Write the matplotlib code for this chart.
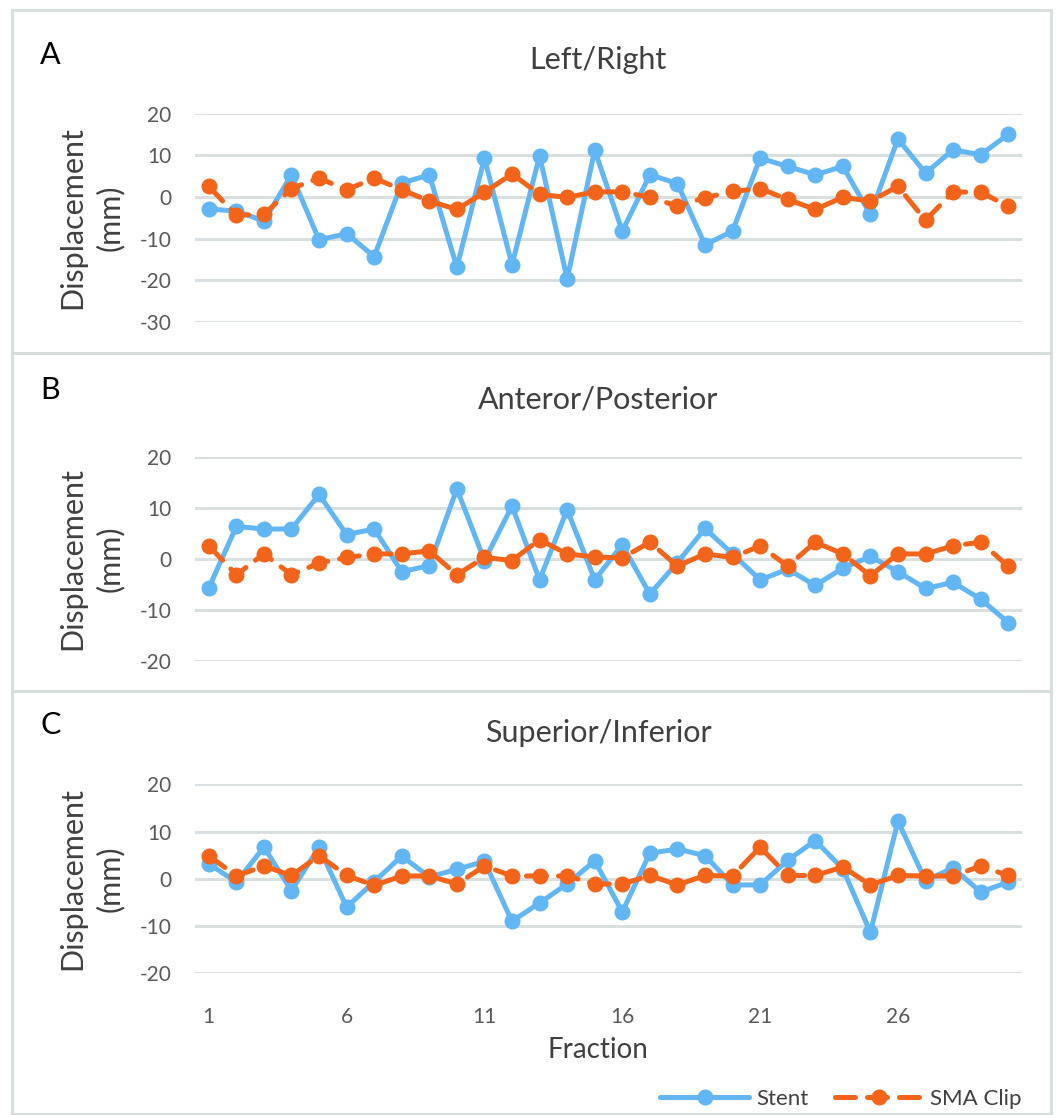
import numpy as np
import matplotlib.pyplot as plt
from matplotlib.lines import Line2D
from matplotlib.patches import Rectangle

plt.rcParams['font.family'] = ['Lato', 'DejaVu Sans']

fractions = np.arange(1, 31)

# Left/Right
lr_stent = [-2.9, -3.4, -5.8, 5.3, -10.3, -8.8, -14.3, 3.3, 5.3, -16.9,
            9.3, -16.3, 9.9, -19.7, 11.2, -8.2, 5.3, 3.2, -11.5, -8.2,
            9.3, 7.3, 5.3, 7.3, -4.2, 13.9, 5.7, 11.3, 10.1, 15.0]
lr_clip = [2.5, -4.4, -4.2, 2.0, 4.5, 1.7, 4.5, 1.7, -1.0, -3.0,
           1.1, 5.5, 0.6, -0.1, 1.2, 1.2, -0.1, -2.2, -0.2, 1.3,
           2.0, -0.6, -3.0, -0.1, -1.0, 2.5, -5.6, 1.2, 1.1, -2.2]

# Anterior/Posterior
ap_stent = [-5.7, 6.4, 5.9, 5.9, 12.7, 4.8, 5.9, -2.5, -1.3, 13.8,
            -0.3, 10.4, -4.1, 9.7, -4.1, 2.8, -6.9, -0.7, 6.0, 1.0,
            -4.1, -2.0, -5.2, -1.8, 0.5, -2.5, -5.8, -4.6, -7.9, -12.5]
ap_clip = [2.6, -3.1, 1.0, -3.1, -0.8, 0.3, 1.0, 1.0, 1.6, -3.1,
           0.3, -0.3, 3.8, 1.0, 0.4, 0.2, 3.3, -1.4, 1.0, 0.3,
           2.6, -1.4, 3.3, 1.0, -3.3, 1.0, 1.0, 2.6, 3.3, -1.4]

# Superior/Inferior
si_stent = [3.2, -0.7, 6.7, -2.5, 6.7, -6.0, -0.6, 4.8, 0.4, 2.0,
            3.7, -9.0, -5.1, -1.1, 3.8, -7.0, 5.4, 6.3, 4.9, -1.3,
            -1.3, 3.9, 8.1, 2.1, -11.3, 12.2, -0.4, 2.3, -2.8, -0.7]
si_clip = [4.9, 0.6, 2.7, 0.7, 4.9, 0.7, -1.4, 0.6, 0.6, -1.1,
           2.7, 0.6, 0.6, 0.6, -1.1, -1.1, 0.7, -1.3, 0.7, 0.6,
           6.7, 0.7, 0.7, 2.5, -1.3, 0.7, 0.6, 0.6, 2.7, 0.7]

panels = [
    ('A', 'Left/Right', lr_stent, lr_clip, [20, 10, 0, -10, -20, -30]),
    ('B', 'Anteror/Posterior', ap_stent, ap_clip, [20, 10, 0, -10, -20]),
    ('C', 'Superior/Inferior', si_stent, si_clip, [20, 10, 0, -10, -20]),
]

blue = '#62B6F4'
orange = '#F26419'
grid_c = '#D9E0DF'
text_c = '#404040'
tick_c = '#595959'

W, H = 1057, 1115
fig = plt.figure(figsize=(W / 100, H / 100), dpi=100)

def fx(px):
    return px / W

def fy(py):
    return 1 - py / H

# panel frames
box_c = '#D6DFDE'
fig.patches.append(Rectangle((fx(12), fy(1114)), fx(1051) - fx(12), fy(10) - fy(1114),
                             transform=fig.transFigure, fill=False, ec=box_c, lw=2.2))
for yy in [353, 691]:
    fig.add_artist(Line2D([fx(12), fx(1051)], [fy(yy), fy(yy)], transform=fig.transFigure,
                          color=box_c, lw=2.2))

# axes positions in pixels (top, bottom)
ax_rows = [(113.5, 322), (457.3, 660.7), (784.3, 973.3)]
letter_y = [55, 390, 725]
title_y = [60, 400, 733]
x_left, x_right = 195, 1022
ax_w = fx(x_right) - fx(x_left)

axes = []
for (letter, title, stent, clip, yt), (top, bot), ly, ty in zip(panels, ax_rows, letter_y, title_y):
    ax = fig.add_axes([fx(x_left), fy(bot), ax_w, fy(top) - fy(bot)])
    ax.set_xlim(0.5, 30.5)
    ax.set_ylim(min(yt), max(yt))
    ax.set_yticks(yt)
    ax.set_yticklabels([str(v) for v in yt], fontsize=15, color=tick_c)
    ax.tick_params(axis='y', length=0, pad=17)
    ax.yaxis.grid(True, color=grid_c, lw=2.2)
    ax.set_axisbelow(True)
    for s in ax.spines.values():
        s.set_visible(False)
    ax.plot(fractions, stent, color=blue, lw=3.6, marker='o', ms=10.5,
            label='Stent', solid_capstyle='round', solid_joinstyle='round', zorder=3)
    ax.plot(fractions, clip, color=orange, lw=3.6, marker='o', ms=10.5,
            ls=(0, (4.0, 2.4)), dash_capstyle='round', label='SMA Clip', zorder=4)
    ax.set_xticks([])
    ax.set_ylabel('Displacement\n(mm)', fontsize=22, color=text_c, linespacing=1.4)
    ax.yaxis.set_label_coords(fx(124 - x_left) / ax_w, 0.5)
    fig.text(fx(40), fy(ly), letter, fontsize=22, color='black', va='center', ha='left')
    fig.text(fx(598), fy(ty), title, fontsize=22, color=text_c, va='center', ha='center')
    axes.append(ax)

ax = axes[-1]
ax.set_xticks([1, 6, 11, 16, 21, 26])
ax.set_xticklabels(['1', '6', '11', '16', '21', '26'], fontsize=15, color=tick_c)
ax.tick_params(axis='x', length=0, pad=24)
fig.text(fx(598), fy(1050), 'Fraction', fontsize=20, color=text_c, va='center', ha='center')

handles, labels = ax.get_legend_handles_labels()
fig.legend(handles, labels, loc='center right', bbox_to_anchor=(fx(1042), fy(1099)),
           ncol=2, frameon=False, fontsize=16, handlelength=4.0, columnspacing=1.2,
           handletextpad=0.3, labelcolor=text_c)

fig.savefig('out.png', dpi=100)
